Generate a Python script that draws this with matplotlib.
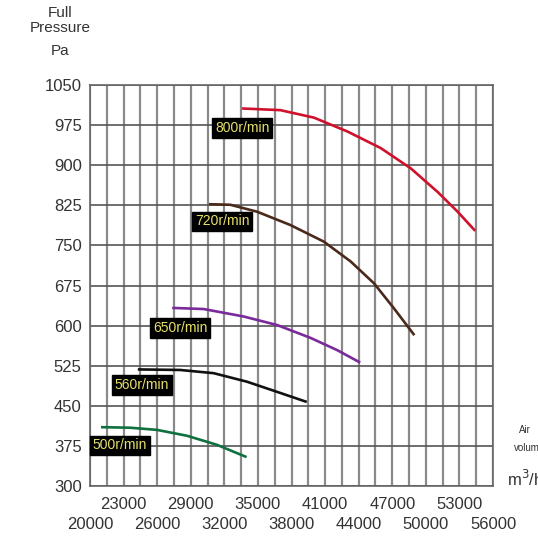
import numpy as np
import matplotlib.pyplot as plt

plt.rcParams['font.family'] = ['Liberation Sans', 'DejaVu Sans']

# fan curves: air volume (m3/h) vs full pressure (Pa)
speeds = ['800r/min', '720r/min', '650r/min', '560r/min', '500r/min']
colors = ['#d0112b', '#4a2a1a', '#7a2a9a', '#111111', '#0f7040']

vol_800 = [33700, 37000, 40000, 43000, 45970, 48660, 51050, 52840, 54330]
pr_800 = [1006, 1003, 989, 963, 932, 894, 850, 813, 779]
vol_720 = [30750, 32540, 34930, 37910, 40890, 43280, 45370, 47160, 48900]
pr_720 = [827, 826, 813, 788, 757, 720, 679, 632, 584]
vol_650 = [27460, 30150, 33730, 36720, 39700, 42090, 44030]
pr_650 = [633, 631, 617, 601, 577, 554, 532]
vol_560 = [24390, 28060, 31050, 34030, 36720, 39250]
pr_560 = [518, 517, 511, 495, 476, 458]
vol_500 = [21100, 23580, 25970, 28660, 31340, 33880]
pr_500 = [410, 409, 405, 394, 377, 355]

vols = [vol_800, vol_720, vol_650, vol_560, vol_500]
prs = [pr_800, pr_720, pr_650, pr_560, pr_500]
# label anchor points (data coords)
lab_x = [33610, 31820, 28060, 24610, 22640]
lab_y = [970, 795, 596, 489, 376]

x_upper = [23000, 29000, 35000, 41000, 47000, 53000]
x_lower = [20000, 26000, 32000, 38000, 44000, 50000, 56000]
y_ticks = [300, 375, 450, 525, 600, 675, 750, 825, 900, 975, 1050]

fig = plt.figure(figsize=(5.38, 5.36), dpi=100)
ax = fig.add_axes([0.1673, 0.0933, 0.7491, 0.7481])
ax.set_xlim(20000, 56000)
ax.set_ylim(300, 1050)

for xv in np.arange(20000, 56001, 1500):
    ax.axvline(xv, color='#8a8a8a', lw=1.6, zorder=1)
for yv in y_ticks:
    ax.axhline(yv, color='#555555', lw=1.2, zorder=1)
for s in ax.spines.values():
    s.set_color('#666666')
    s.set_linewidth(1.2)

for v, p, c in zip(vols, prs, colors):
    ax.plot(v, p, color=c, lw=1.9, zorder=3, solid_joinstyle='round')

for name, lx, ly in zip(speeds, lab_x, lab_y):
    ax.text(lx, ly, name, color='#e6e06a', fontsize=10, ha='center', va='center',
            zorder=4, bbox=dict(boxstyle='square,pad=0.2', fc='black', ec='black'))

ax.set_xticks([])
ax.set_yticks(y_ticks)
ax.set_yticklabels([str(t) for t in y_ticks], fontsize=12, color='#333333')
ax.tick_params(axis='y', length=0, pad=6)

for xv in x_upper:
    ax.text(xv, -0.045, str(xv), transform=ax.get_xaxis_transform(),
            ha='center', va='center', fontsize=12, color='#333333')
for xv in x_lower:
    ax.text(xv, -0.095, str(xv), transform=ax.get_xaxis_transform(),
            ha='center', va='center', fontsize=12, color='#333333')

fig.text(0.112, 0.975, 'Full', ha='center', va='center', fontsize=11, color='#333333')
fig.text(0.112, 0.947, 'Pressure', ha='center', va='center', fontsize=11, color='#333333')
fig.text(0.112, 0.905, 'Pa', ha='center', va='center', fontsize=11, color='#333333')

fig.text(0.976, 0.198, 'Air', ha='center', va='center', fontsize=7, color='#333333')
fig.text(0.985, 0.164, 'volume', ha='center', va='center', fontsize=7, color='#333333')
fig.text(0.976, 0.107, 'm$^3$/h', ha='center', va='center', fontsize=12, color='#333333')

fig.savefig('out.png', dpi=100)
